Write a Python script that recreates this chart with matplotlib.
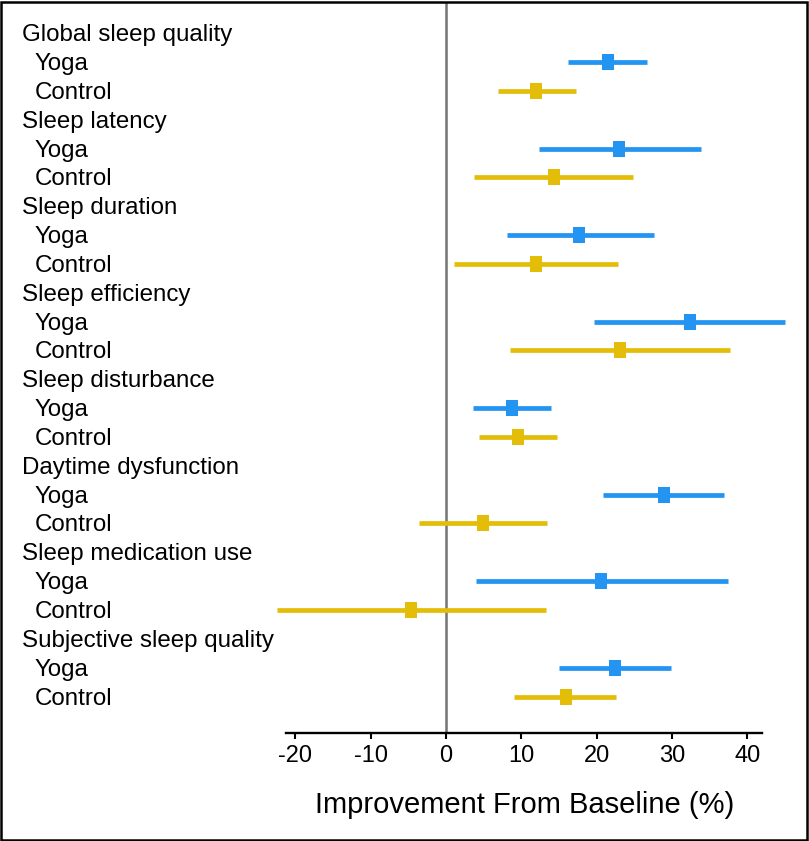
import matplotlib
matplotlib.use("Agg")
import matplotlib.pyplot as plt
from matplotlib import font_manager
from matplotlib.transforms import blended_transform_factory, offset_copy
from matplotlib.patches import Rectangle

# ---------------- data ----------------
categories = ["Global sleep quality", "Sleep latency", "Sleep duration",
              "Sleep efficiency", "Sleep disturbance", "Daytime dysfunction",
              "Sleep medication use", "Subjective sleep quality"]
groups = ["Yoga", "Control"]

yoga_mean = [21.5, 23.0, 17.7, 32.4, 8.7, 29.0, 20.6, 22.5]
yoga_low = [16.2, 12.3, 8.1, 19.7, 3.6, 20.9, 4.0, 15.0]
yoga_high = [26.7, 33.8, 27.6, 45.0, 13.9, 36.9, 37.4, 29.9]

ctrl_mean = [12.0, 14.3, 12.0, 23.1, 9.5, 4.9, -4.7, 15.9]
ctrl_low = [6.9, 3.7, 1.0, 8.5, 4.4, -3.6, -22.4, 9.0]
ctrl_high = [17.2, 24.9, 22.9, 37.7, 14.8, 13.4, 13.3, 22.6]

xticks = [-20, -10, 0, 10, 20, 30, 40]
xlabel = "Improvement From Baseline (%)"

# ---------------- style ----------------
BLUE = "#2394F2"
GOLD = "#E3BD08"

names = {f.name for f in font_manager.fontManager.ttflist}
FONT = "Liberation Sans" if "Liberation Sans" in names else "DejaVu Sans"
NARROW = "Liberation Sans Narrow" if "Liberation Sans Narrow" in names else FONT
plt.rcParams["font.family"] = [FONT, "DejaVu Sans"]

W, H = 809, 841
fig = plt.figure(figsize=(W / 100, H / 100), dpi=100)

# axes placement (pixels)
x0_px, px_per_unit = 446.0, 7.53
xlim = (-23.0, 46.0)
row0_px, row_step = 33.2, 28.84
axis_px, top_px = 733.0, 3.0
left_px = x0_px + xlim[0] * px_per_unit
right_px = x0_px + xlim[1] * px_per_unit
ylim = ((axis_px - row0_px) / row_step, (top_px - row0_px) / row_step)
ax = fig.add_axes([left_px / W, 1 - axis_px / H,
                   (right_px - left_px) / W, (axis_px - top_px) / H])
ax.set_xlim(*xlim)
ax.set_ylim(*ylim)
ax.patch.set_alpha(0)

for s in ["left", "right", "top"]:
    ax.spines[s].set_visible(False)
ax.spines["bottom"].set_bounds(-21.3, 41.9)
ax.spines["bottom"].set_linewidth(1.7)
ax.set_yticks([])
ax.set_xticks(xticks)
ax.set_xticklabels([str(t) for t in xticks])
ax.tick_params(axis="x", direction="out", length=4.5, width=1.5,
               labelsize=17, pad=4, colors="black")

ax.axvline(0, color="#747474", lw=1.8, zorder=1)

marker = [(-0.37, -0.5), (0.37, -0.5), (0.37, 0.5), (-0.37, 0.5), (-0.37, -0.5)]

label_tr = blended_transform_factory(fig.transFigure, ax.transData)
label_tr = offset_copy(label_tr, fig=fig, x=0, y=-8, units="dots")

for i, cat in enumerate(categories):
    r = 3 * i
    ax.text(22 / W, r, cat, transform=label_tr, fontsize=17.4,
            ha="left", va="baseline")
    for j, (g, m, lo, hi, c) in enumerate([
            ("Yoga", yoga_mean[i], yoga_low[i], yoga_high[i], BLUE),
            ("Control", ctrl_mean[i], ctrl_low[i], ctrl_high[i], GOLD)]):
        y = r + 1 + j
        ax.text(35 / W, y, g, transform=label_tr, fontsize=17.4,
                ha="left", va="baseline")
        ax.plot([lo, hi], [y, y], color=c, lw=3.4, solid_capstyle="butt",
                clip_on=False, zorder=3)
        ax.plot([m], [y], marker=marker, markersize=11.3, color=c,
                markeredgewidth=0, linestyle="none", clip_on=False, zorder=4)

fig.text(x0_px / W + (10.4 * px_per_unit) / W, 1 - 805 / H, xlabel,
         ha="center", va="center", fontsize=24 if NARROW != FONT else 21,
         family=[NARROW, "DejaVu Sans"])

# figure frame
fig.patches.append(Rectangle((1 / W, 1 / H), (W - 3) / W, (H - 3) / H,
                             transform=fig.transFigure, fill=False,
                             edgecolor="black", lw=1.8))

fig.savefig("out.png", dpi=100)
